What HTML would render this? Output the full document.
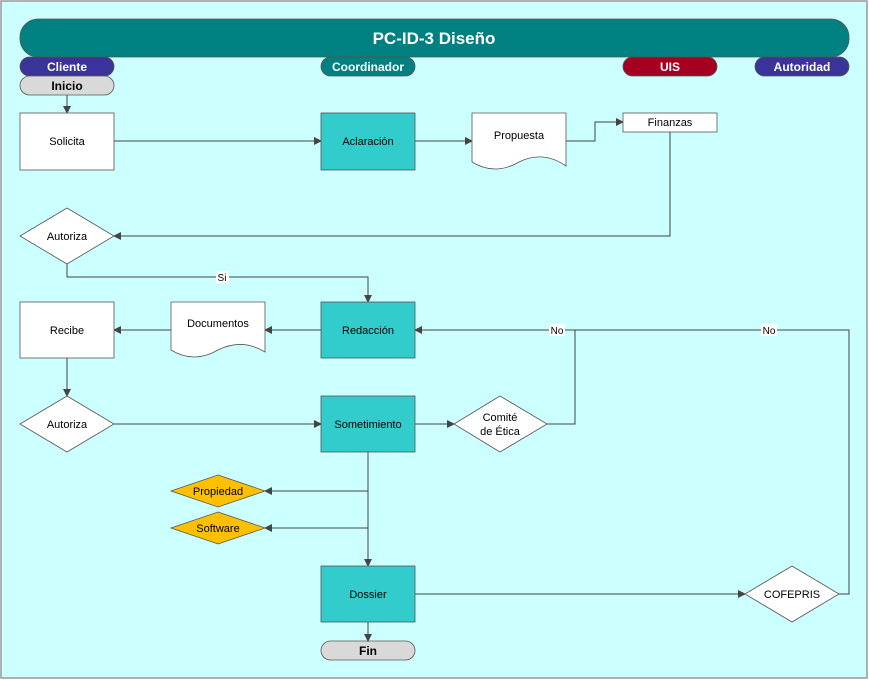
<!DOCTYPE html>
<html><head><meta charset="utf-8"><style>
html,body{margin:0;padding:0;background:#fff}
svg{display:block}
text{font-family:"Liberation Sans",sans-serif;font-size:11px;fill:#000}
.b{font-weight:bold;fill:#fff;font-size:12px}
</style></head><body>
<svg width="869" height="680" viewBox="0 0 869 680" xmlns="http://www.w3.org/2000/svg">
<defs><marker id="a" markerWidth="8" markerHeight="8" refX="7" refY="4" orient="auto" markerUnits="userSpaceOnUse"><path d="M0,0 L8,4 L0,8 z" fill="#444"/></marker></defs>
<rect x="1" y="1" width="866" height="677" fill="#ccffff" stroke="#999" stroke-width="1.5"/>
<rect x="20" y="19" width="829" height="38" rx="18" fill="#008080" stroke="#555" stroke-width="0.8"/>
<text x="434" y="44" text-anchor="middle" class="b" style="font-size:17px">PC-ID-3 Diseño</text>
<g stroke="#555" stroke-width="0.8">
<rect x="20" y="57" width="94" height="19" rx="9.5" fill="#3a3399"/>
<rect x="321" y="57" width="94" height="19" rx="9.5" fill="#008080"/>
<rect x="623" y="57" width="94" height="19" rx="9.5" fill="#a50021"/>
<rect x="755" y="57" width="94" height="19" rx="9.5" fill="#3a3399"/>
<rect x="20" y="76" width="94" height="19" rx="9.5" fill="#d9d9d9"/>
<rect x="321" y="641" width="94" height="19" rx="9.5" fill="#d9d9d9"/>
</g>
<text x="67" y="71" text-anchor="middle" class="b">Cliente</text>
<text x="368" y="71" text-anchor="middle" class="b">Coordinador</text>
<text x="670" y="71" text-anchor="middle" class="b">UIS</text>
<text x="802" y="71" text-anchor="middle" class="b">Autoridad</text>
<text x="67" y="90" text-anchor="middle" class="b" style="fill:#000">Inicio</text>
<text x="368" y="655" text-anchor="middle" class="b" style="fill:#000">Fin</text>
<g fill="none" stroke="#444" stroke-width="1" marker-end="url(#a)">
<path d="M67,95 V113"/>
<path d="M114,141 H321"/>
<path d="M415,141 H472"/>
<path d="M566,141 H595 V122 H623"/>
<path d="M670,132 V236 H114"/>
<path d="M67,264 V277 H368 V302"/>
<path d="M321,330 H265"/>
<path d="M171,330 H114"/>
<path d="M67,358 V396"/>
<path d="M114,424 H321"/>
<path d="M415,424 H454"/>
<path d="M547,424 H575 V330 H415"/>
<path d="M368,452 V566"/>
<path d="M368,491 H265"/>
<path d="M368,528 H265"/>
<path d="M415,594 H745"/>
<path d="M368,622 V641"/>
</g>
<path d="M839,594 H849 V330 H575" fill="none" stroke="#444" stroke-width="1"/>
<g stroke="#555" stroke-width="0.8">
<rect x="20" y="113" width="94" height="57" fill="#fff"/>
<rect x="321" y="113" width="94" height="57" fill="#33cccc"/>
<path d="M472,113 H566 V166 Q543,150 519,162 Q495,176 472,162 Z" fill="#fff"/>
<rect x="623" y="113" width="94" height="19" fill="#fff"/>
<path d="M67,208 L114,236 L67,264 L20,236 Z" fill="#fff"/>
<rect x="20" y="302" width="94" height="56" fill="#fff"/>
<path d="M171,302 H265 V352 Q242,338 218,350 Q194,364 171,350 Z" fill="#fff"/>
<rect x="321" y="302" width="94" height="56" fill="#33cccc"/>
<path d="M67,396 L114,424 L67,452 L20,424 Z" fill="#fff"/>
<rect x="321" y="396" width="94" height="56" fill="#33cccc"/>
<path d="M500,396 L547,424 L500,452 L454,424 Z" fill="#fff"/>
<path d="M218,475 L265,491 L218,507 L171,491 Z" fill="#ffc000"/>
<path d="M218,512 L265,528 L218,544 L171,528 Z" fill="#ffc000"/>
<rect x="321" y="566" width="94" height="56" fill="#33cccc"/>
<path d="M792,566 L839,594 L792,622 L745,594 Z" fill="#fff"/>
</g>
<text x="67" y="145" text-anchor="middle">Solicita</text>
<text x="368" y="145" text-anchor="middle">Aclaración</text>
<text x="519" y="139" text-anchor="middle">Propuesta</text>
<text x="670" y="126" text-anchor="middle">Finanzas</text>
<text x="67" y="240" text-anchor="middle">Autoriza</text>
<rect x="216" y="271" width="13" height="12" fill="#fff"/>
<text x="222" y="281" text-anchor="middle" style="font-size:10px">Si</text>
<text x="67" y="334" text-anchor="middle">Recibe</text>
<text x="218" y="327" text-anchor="middle">Documentos</text>
<text x="368" y="334" text-anchor="middle">Redacción</text>
<rect x="549" y="324" width="16" height="12" fill="#fff"/>
<text x="557" y="334" text-anchor="middle" style="font-size:10px">No</text>
<rect x="761" y="324" width="16" height="12" fill="#fff"/>
<text x="769" y="334" text-anchor="middle" style="font-size:10px">No</text>
<text x="67" y="428" text-anchor="middle">Autoriza</text>
<text x="368" y="428" text-anchor="middle">Sometimiento</text>
<text x="500" y="421" text-anchor="middle">Comité</text>
<text x="500" y="435" text-anchor="middle">de Ética</text>
<text x="218" y="495" text-anchor="middle">Propiedad</text>
<text x="218" y="532" text-anchor="middle">Software</text>
<text x="368" y="598" text-anchor="middle">Dossier</text>
<text x="792" y="598" text-anchor="middle">COFEPRIS</text>
</svg>
</body></html>
